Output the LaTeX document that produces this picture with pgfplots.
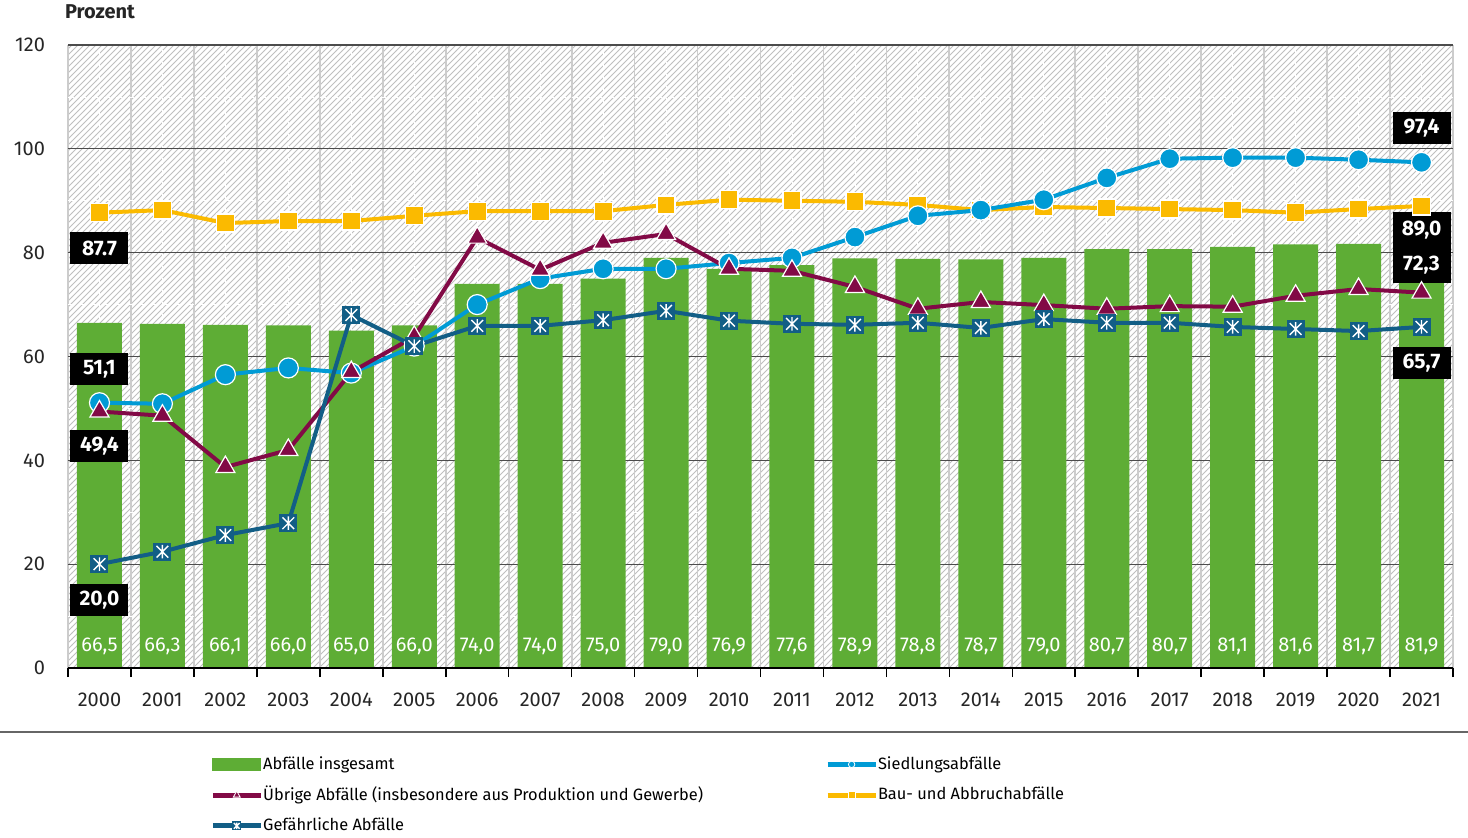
\documentclass[border=0pt]{standalone}
\usepackage{fontspec}
\setmainfont{Fira Sans}
\usepackage{pgfplots}
\pgfplotsset{compat=1.18}
\usepackage{pgfplotstable}
\usetikzlibrary{patterns}

\definecolor{barc}{RGB}{94,173,53}
\definecolor{siedc}{RGB}{0,155,213}
\definecolor{bauc}{RGB}{251,186,0}
\definecolor{uebc}{RGB}{130,10,70}
\definecolor{gefc}{RGB}{18,94,134}

\pgfdeclareplotmark{sqast}{%
 \pgfpathrectangle{\pgfqpoint{-\pgfplotmarksize}{-\pgfplotmarksize}}{\pgfqpoint{2\pgfplotmarksize}{2\pgfplotmarksize}}%
 \pgfusepathqfill
 \pgfsetstrokecolor{white}%
 \pgfsetlinewidth{0.7pt}%
 \pgfpathmoveto{\pgfqpoint{0pt}{-0.75\pgfplotmarksize}}\pgfpathlineto{\pgfqpoint{0pt}{0.75\pgfplotmarksize}}%
 \pgfpathmoveto{\pgfqpoint{-0.65\pgfplotmarksize}{-0.65\pgfplotmarksize}}\pgfpathlineto{\pgfqpoint{0.65\pgfplotmarksize}{0.65\pgfplotmarksize}}%
 \pgfpathmoveto{\pgfqpoint{-0.65\pgfplotmarksize}{0.65\pgfplotmarksize}}\pgfpathlineto{\pgfqpoint{0.65\pgfplotmarksize}{-0.65\pgfplotmarksize}}%
 \pgfusepathqstroke
}

\pgfplotstableread{
x bar siedl bau ueb gef ly lab
0 66.5 51.1 87.7 49.4 20.0 4.2 66,5
1 66.3 50.9 88.2 48.6 22.4 4.2 66,3
2 66.1 56.5 85.7 38.7 25.6 4.2 66,1
3 66.0 57.8 86.1 42.0 27.9 4.2 66,0
4 65.0 56.8 86.1 57.0 68.0 4.2 65,0
5 66.0 62.0 87.1 63.8 62.0 4.2 66,0
6 74.0 70.0 88.0 82.9 65.9 4.2 74,0
7 74.0 75.0 88.0 76.7 65.9 4.2 74,0
8 75.0 76.9 88.0 81.9 67.0 4.2 75,0
9 79.0 76.9 89.2 83.6 68.8 4.2 79,0
10 76.9 78.0 90.2 76.9 66.9 4.2 76,9
11 77.6 79.0 90.0 76.5 66.3 4.2 77,6
12 78.9 83.0 89.8 73.4 66.1 4.2 78,9
13 78.8 87.1 89.2 69.2 66.5 4.2 78,8
14 78.7 88.2 88.2 70.5 65.5 4.2 78,7
15 79.0 90.2 88.8 69.9 67.2 4.2 79,0
16 80.7 94.4 88.6 69.2 66.5 4.2 80,7
17 80.7 98.1 88.4 69.7 66.5 4.2 80,7
18 81.1 98.3 88.2 69.6 65.7 4.2 81,1
19 81.6 98.3 87.7 71.7 65.3 4.2 81,6
20 81.7 97.9 88.4 73.0 64.9 4.2 81,7
21 81.9 97.4 89.0 72.3 65.7 4.2 81,9
}\datatable

\tikzset{lbl/.style={fill=black, text=white, font=\bfseries\fontsize{10.5}{12}\selectfont, minimum width=29pt, minimum height=16pt, inner sep=1pt}}

\begin{document}
\begin{tikzpicture}
\useasboundingbox (-34pt,-84.5pt) rectangle (700pt,334pt);
\begin{axis}[
 name=ax, scale only axis, width=692.5pt, height=311.5pt,
 xmin=-0.5, xmax=21.5, ymin=0, ymax=120,
 axis line style={draw=none},
 axis background/.style={pattern=north east lines, pattern color=black!25},
 xtick={0,...,21},
 xticklabels={2000,2001,2002,2003,2004,2005,2006,2007,2008,2009,2010,2011,2012,2013,2014,2015,2016,2017,2018,2019,2020,2021},
 minor xtick={-0.5,0.5,...,21.5},
 ytick={0,20,...,120},
 xmajorgrids, xminorgrids, ymajorgrids,
 major x grid style={white, dashed, line width=0.4pt},
 minor x grid style={black!20, line width=0.9pt},
 major y grid style={black!70, line width=0.6pt},
 tick align=outside, major tick length=0pt, minor tick length=4.5pt,
 tick pos=left,
 minor tick style={black, line width=0.8pt},
 xticklabel style={yshift=-9pt, font=\fontsize{10}{12}\selectfont, text=black!85},
 yticklabel style={xshift=-8pt, font=\fontsize{10}{12}\selectfont, text=black!85},
 /pgf/number format/assume math mode=true,
 legend columns=2,
 legend cell align=left,
 legend style={draw=none, fill=none, at={(axis description cs:0.1025,-0.135)}, anchor=north west,
   font=\fontsize{8.2}{10}\selectfont, row sep=3pt, inner sep=0pt,
   /tikz/column 1/.style={column sep=-2pt},
   /tikz/column 2/.style={column sep=59pt},
   /tikz/column 3/.style={column sep=-2pt}},
 legend image code/.code={\draw[mark repeat=2,mark phase=2] plot coordinates {(0pt,0pt) (12pt,0pt) (24pt,0pt)};},
]
\addlegendimage{legend image code/.code={\fill[barc] (0pt,-2.8pt) rectangle (24pt,2.8pt);}}
\addlegendentry{Abfälle insgesamt}
\addlegendimage{siedc, line width=2.4pt, mark=*, mark size=1.6pt, mark options={fill=siedc, draw=white, line width=0.4pt}}
\addlegendentry{Siedlungsabfälle}
\addlegendimage{uebc, line width=2.4pt, mark=triangle*, mark size=2pt, mark options={fill=uebc, draw=white, line width=0.4pt}}
\addlegendentry{Übrige Abfälle (insbesondere aus Produktion und Gewerbe)}
\addlegendimage{bauc, line width=2.4pt, mark=square*, mark size=1.8pt, mark options={fill=bauc, draw=white, line width=0.4pt}}
\addlegendentry{Bau- und Abbruchabfälle}
\addlegendimage{gefc, line width=2.4pt, mark=sqast, mark size=2.2pt, mark options={fill=gefc}}
\addlegendentry{Gefährliche Abfälle}

\pgfplotsinvokeforeach{10,30,50,70,90,110}{\draw[white, dashed, line width=0.4pt] (axis cs:-0.5,#1) -- (axis cs:21.5,#1);}

\addplot[ybar, bar width=22.5pt, fill=barc, draw=none, forget plot] table[x=x, y=bar] {\datatable};
\addplot[draw=none, mark=none, forget plot, nodes near coords, point meta=explicit symbolic,
  every node near coord/.style={anchor=center, text=white, font=\fontsize{10}{12}\selectfont}]
  table[x=x, y=ly, meta=lab] {\datatable};

\addplot[bauc, line width=2pt, mark=square*, mark size=4.5pt, mark options={fill=bauc, draw=white, line width=0.6pt}, forget plot] table[x=x, y=bau] {\datatable};
\addplot[siedc, line width=2pt, mark=*, mark size=5pt, mark options={fill=siedc, draw=white, line width=0.6pt}, forget plot] table[x=x, y=siedl] {\datatable};
\addplot[uebc, line width=2pt, mark=triangle*, mark size=5.5pt, mark options={fill=uebc, draw=white, line width=0.6pt}, forget plot] table[x=x, y=ueb] {\datatable};
\addplot[gefc, line width=2pt, mark=sqast, mark size=4.5pt, mark options={fill=gefc}, forget plot] table[x=x, y=gef] {\datatable};

\draw[black, line width=1.2pt] (axis cs:-0.5,0) -- (axis cs:21.5,0);

\node[lbl] at (axis cs:0,80.9) {87.7};
\node[lbl] at (axis cs:0,57.6) {51,1};
\node[lbl] at (axis cs:0,42.8) {49,4};
\node[lbl] at (axis cs:0,13.1) {20,0};
\node[lbl] at (axis cs:21,104) {97,4};
\node[lbl, align=center, minimum height=35.5pt, font=\bfseries\fontsize{10.5}{17.5}\selectfont] at (axis cs:21,80.9) {89,0\\72,3};
\node[lbl] at (axis cs:21,58.8) {65,7};
\end{axis}
\node[font=\bfseries\fontsize{10}{12}\selectfont, text=black!85] at (16pt,328pt) {Prozent};
\draw[black!60, line width=0.6pt] (-34pt,-32pt) -- (700pt,-32pt);
\end{tikzpicture}
\end{document}
